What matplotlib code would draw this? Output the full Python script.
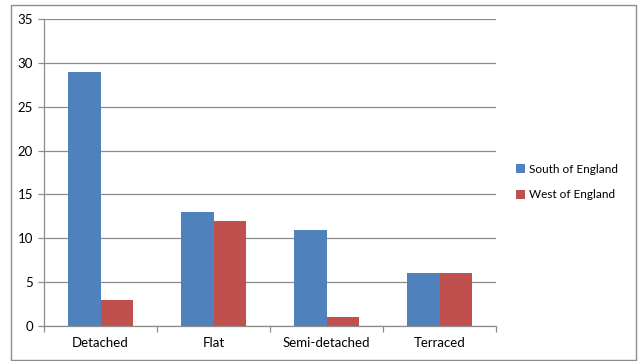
import matplotlib
matplotlib.use("Agg")
import matplotlib.pyplot as plt
from matplotlib.patches import Rectangle
import numpy as np

categories = ["Detached", "Flat", "Semi-detached", "Terraced"]
south = [29, 13, 11, 6]
west = [3, 12, 1, 6]
series_names = ["South of England", "West of England"]
colors = ["#4F81BD", "#C0504D"]
yticks = [0, 5, 10, 15, 20, 25, 30, 35]

plt.rcParams['font.family'] = ['Lato', 'DejaVu Sans']

W, H = 640, 361
fig = plt.figure(figsize=(W / 100, H / 100), dpi=100)

# chart frame
fig.patches.append(Rectangle((11 / W, 1 - 360 / H), 625 / W, 355 / H,
                             transform=fig.transFigure, fill=False,
                             edgecolor="#8C8C8C", linewidth=1.0))

ax = fig.add_axes([44 / W, 1 - 326 / H, (496 - 44) / W, (326 - 19) / H])

n = len(categories)
x = np.arange(n)
bw = 1 / 3.5
ax.bar(x - bw / 2, south, width=bw, color=colors[0], label=series_names[0])
ax.bar(x + bw / 2, west, width=bw, color=colors[1], label=series_names[1])

ax.set_xlim(-0.5, n - 0.5)
ax.set_ylim(0, 35)
ax.set_yticks(yticks)
ax.set_yticklabels([str(v) for v in yticks], fontsize=9.5)
ax.yaxis.grid(True, color="#8C8C8C", linewidth=0.9)
ax.set_axisbelow(True)

ax.set_xticks(x)
ax.set_xticklabels(categories, fontsize=9.5)
ax.tick_params(axis="x", length=0, pad=8)
ax.set_xticks(np.arange(-0.5, n + 0.5, 1), minor=True)
ax.tick_params(axis="x", which="minor", length=4, color="#8C8C8C", width=0.9)
ax.tick_params(axis="y", length=4, color="#8C8C8C", width=0.9, pad=4)

for s in ["top", "right"]:
    ax.spines[s].set_visible(False)
for s in ["left", "bottom"]:
    ax.spines[s].set_color("#8C8C8C")
    ax.spines[s].set_linewidth(0.9)

leg = fig.legend(loc="center left", bbox_to_anchor=(516 / W, 1 - 182 / H),
                 frameon=False, fontsize=8.5, handlelength=0.75, handleheight=0.75,
                 handletextpad=0.35, labelspacing=1.25, borderpad=0,
                 borderaxespad=0)

fig.savefig("out.png", dpi=100)
